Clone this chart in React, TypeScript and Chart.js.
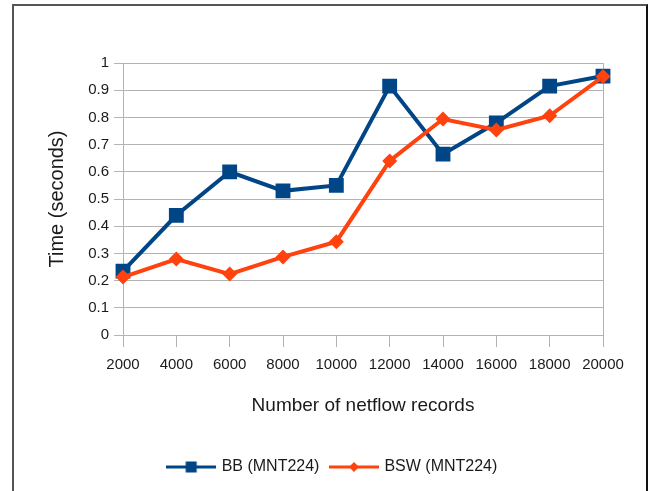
import React, { useEffect, useRef } from "react";
import { Chart, registerables } from "chart.js";

Chart.register(...registerables);

const categories = ["2000", "4000", "6000", "8000", "10000", "12000", "14000", "16000", "18000", "20000"];
const bbValues = [0.235, 0.44, 0.6, 0.53, 0.55, 0.915, 0.665, 0.78, 0.915, 0.952];
const bswValues = [0.213, 0.279, 0.224, 0.287, 0.343, 0.64, 0.794, 0.754, 0.806, 0.95];
const seriesNames = ["BB (MNT224)", "BSW (MNT224)"];
const xTitle = "Number of netflow records";
const yTitle = "Time (seconds)";

const BLUE = "#004586";
const ORANGE = "#ff420e";
const GRID = "#b3b3b3";
const TEXT = "#1a1a1a";
const FONT = "'Liberation Sans', Arial, sans-serif";

function makeLegendIcon(color: string, kind: "square" | "diamond"): HTMLCanvasElement {
  const c = document.createElement("canvas");
  c.width = 50;
  c.height = 14;
  const ctx = c.getContext("2d")!;
  ctx.strokeStyle = color;
  ctx.lineWidth = 3;
  ctx.beginPath();
  ctx.moveTo(0, 7);
  ctx.lineTo(50, 7);
  ctx.stroke();
  ctx.fillStyle = color;
  if (kind === "square") {
    ctx.fillRect(25 - 5.5, 7 - 5.5, 11, 11);
  } else {
    ctx.beginPath();
    ctx.moveTo(25 - 5, 7);
    ctx.lineTo(25, 2);
    ctx.lineTo(25 + 5, 7);
    ctx.lineTo(25, 12);
    ctx.closePath();
    ctx.fill();
  }
  return c;
}

export default function App() {
  const ref = useRef<HTMLCanvasElement | null>(null);

  useEffect(() => {
    if (!ref.current) return;
    const icons = [makeLegendIcon(BLUE, "square"), makeLegendIcon(ORANGE, "diamond")];
    const colors = [BLUE, ORANGE];
    const chart = new Chart(ref.current, {
      type: "line",
      data: {
        labels: categories,
        datasets: [
          {
            label: seriesNames[0],
            data: bbValues,
            borderColor: BLUE,
            backgroundColor: BLUE,
            borderWidth: 4,
            pointStyle: "rect",
            pointRadius: 10.5,
            pointBorderWidth: 0,
            pointBackgroundColor: BLUE,
            tension: 0,
            order: 1,
          },
          {
            label: seriesNames[1],
            data: bswValues,
            borderColor: ORANGE,
            backgroundColor: ORANGE,
            borderWidth: 4,
            pointStyle: "rectRot",
            pointRadius: 7.5,
            pointBorderWidth: 0,
            pointBackgroundColor: ORANGE,
            tension: 0,
            order: 0,
          },
        ],
      },
      options: {
        responsive: false,
        animation: false,
        devicePixelRatio: 1,
        layout: { padding: { left: 4, top: 63, right: 0, bottom: 6 } },
        plugins: {
          tooltip: { enabled: false },
          legend: {
            position: "bottom",
            align: "center",
            labels: {
              usePointStyle: true,
              pointStyleWidth: 45,
              padding: 12,
              color: TEXT,
              font: { family: FONT, size: 16 },
              generateLabels: () =>
                seriesNames.map((name, i) => ({
                  text: name,
                  fillStyle: colors[i],
                  strokeStyle: colors[i],
                  lineWidth: 0,
                  pointStyle: icons[i],
                  hidden: false,
                  datasetIndex: i,
                  fontColor: TEXT,
                })),
            },
          },
        },
        scales: {
          x: {
            type: "category",
            offset: false,
            afterFit: (s: any) => {
              s.height = 112;
            },
            grid: {
              color: (ctx: any) => (ctx.index === categories.length - 1 ? GRID : "transparent"),
              tickColor: GRID,
              tickLength: 12,
              lineWidth: 1,
            },
            border: { color: GRID, width: 1 },
            ticks: {
              color: TEXT,
              font: { family: FONT, size: 15 },
              padding: 9,
              maxRotation: 0,
              autoSkip: false,
            },
            title: {
              display: true,
              text: xTitle,
              color: TEXT,
              font: { family: FONT, size: 19 },
              padding: { top: 0, bottom: 30 },
            },
          },
          y: {
            min: 0,
            max: 1,
            afterFit: (s: any) => {
              s.width = 119;
            },
            grid: { color: GRID, tickColor: GRID, tickLength: 9, lineWidth: 1 },
            border: { color: GRID, width: 1 },
            ticks: {
              stepSize: 0.1,
              color: TEXT,
              font: { family: FONT, size: 15 },
              padding: 5,
              callback: (v: any) => String(Math.round(Number(v) * 10) / 10),
            },
            title: {
              display: true,
              text: yTitle,
              color: TEXT,
              font: { family: FONT, size: 20 },
              padding: { top: 41, bottom: 0 },
            },
          },
          y2: {
            position: "right",
            display: true,
            afterFit: (s: any) => {
              s.width = 59;
            },
            grid: { display: false, drawTicks: false },
            border: { display: false },
            ticks: { display: false },
          },
        },
      },
    } as any);
    return () => chart.destroy();
  }, []);

  return (
    <div style={{ position: "fixed", left: 0, top: 0, width: 662, height: 491, overflow: "hidden", background: "#fff" }}>
      <canvas ref={ref} width={662} height={491} style={{ position: "absolute", left: 0, top: 0, width: 662, height: 491 }} />
      <div
        style={{
          position: "absolute",
          left: 12,
          top: 4,
          width: 636,
          height: 487,
          borderLeft: "2px solid #555",
          borderTop: "2px solid #555",
          borderRight: "2px solid #111",
          boxSizing: "border-box",
          pointerEvents: "none",
        }}
      />
    </div>
  );
}
